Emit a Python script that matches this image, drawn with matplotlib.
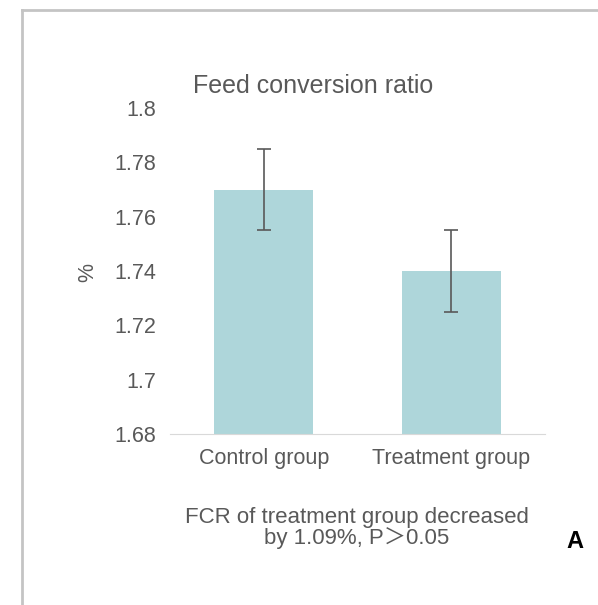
import matplotlib.pyplot as plt

plt.rcParams['font.family'] = ['Liberation Sans', 'DejaVu Sans']

groups = ['Control group', 'Treatment group']
fcr = [1.77, 1.74]
err = [0.015, 0.015]
yticks = [1.68, 1.70, 1.72, 1.74, 1.76, 1.78, 1.80]
ytick_labels = ['1.68', '1.7', '1.72', '1.74', '1.76', '1.78', '1.8']

W, H = 598, 605
fig = plt.figure(figsize=(W / 100, H / 100), dpi=100)

# panel frame (grey lines top and left)
fig.add_artist(plt.Line2D([22 / W, 22 / W], [0, 1 - 10 / H], color='#c4c4c4', lw=2))
fig.add_artist(plt.Line2D([22 / W, 1], [1 - 10 / H, 1 - 10 / H], color='#c4c4c4', lw=2))

ax = fig.add_axes([170 / W, (H - 434) / H, 375 / W, 326 / H])
x = range(len(groups))
ax.bar(x, fcr, width=0.53, color='#aed6da')
ax.errorbar(x, fcr, yerr=err, fmt='none', ecolor='#595959', elinewidth=1.2, capsize=5, capthick=1.2)

ax.set_xlim(-0.5, 1.5)
ax.set_ylim(1.68, 1.80)
ax.set_yticks(yticks)
ax.set_yticklabels(ytick_labels)
ax.set_xticks(list(x))
ax.set_xticklabels(groups)
ax.tick_params(axis='both', length=0, labelsize=15.5, colors='#595959')
ax.tick_params(axis='y', pad=10)
ax.tick_params(axis='x', pad=10)
for s in ['top', 'right', 'left']:
    ax.spines[s].set_visible(False)
ax.spines['bottom'].set_color('#d9d9d9')

fig.text(88 / W, 1 - 272 / H, '%', rotation=90, ha='center', va='center', fontsize=15.5, color='#595959')
fig.text(313 / W, 1 - 86 / H, 'Feed conversion ratio', ha='center', va='center', fontsize=18, color='#595959')
fig.text(357 / W, 1 - 528 / H, 'FCR of treatment group decreased\nby 1.09%, P\uff1e0.05',
         ha='center', va='center', fontsize=16, color='#595959', linespacing=1.0,
         family=['Liberation Sans', 'Noto Sans CJK SC', 'DejaVu Sans'])
fig.text(575 / W, 1 - 541 / H, 'A', ha='center', va='center', fontsize=17, fontweight='bold', color='black')

fig.savefig('out.png', dpi=100)
